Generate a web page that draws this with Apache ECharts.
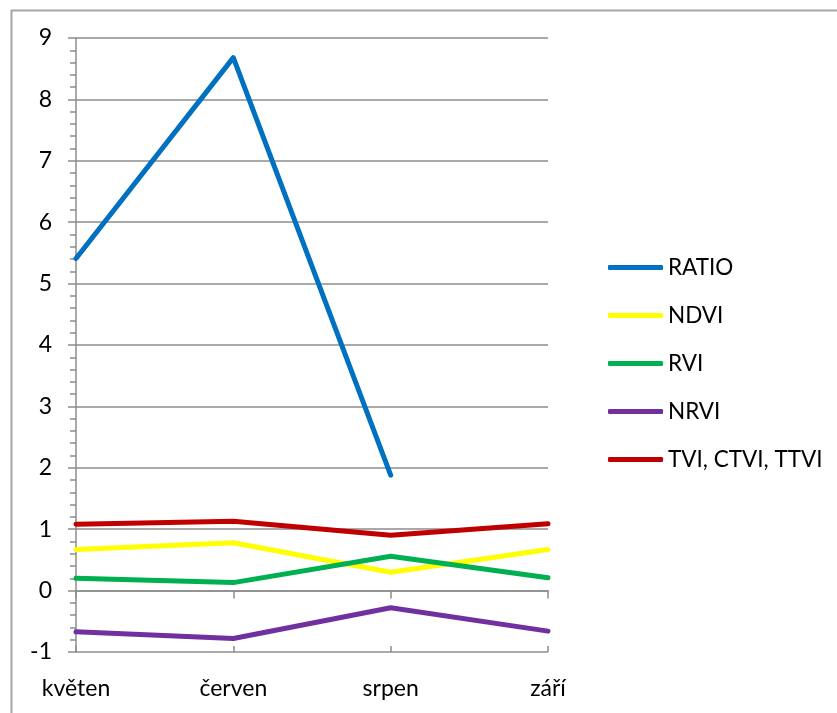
<!DOCTYPE html>
<html>
<head>
<meta charset="utf-8">
<script src="https://cdn.jsdelivr.net/npm/echarts@6/dist/echarts.min.js"></script>
<style>
  html, body { margin: 0; padding: 0; background: #fff; }
  #chart { width: 837px; height: 713px; }
</style>
</head>
<body>
<div id="chart"></div>
<script>
// Months on the category axis
const months = ['květen', 'červen', 'srpen', 'září'];

// Vegetation index values per month
const ratio = [5.41, 8.68, 1.88, null];
const ndvi  = [0.67, 0.78, 0.30, 0.67];
const rvi   = [0.20, 0.13, 0.56, 0.21];
const nrvi  = [-0.67, -0.78, -0.28, -0.66];
const tvi   = [1.08, 1.13, 0.90, 1.09];

// Value axis range
const yMin = -1, yMax = 9, yStep = 1;

const seriesDefs = [
  { name: 'RATIO', data: ratio, color: '#0070C0' },
  { name: 'NDVI', data: ndvi, color: '#FFFF00' },
  { name: 'RVI', data: rvi, color: '#00B050' },
  { name: 'NRVI', data: nrvi, color: '#7030A0' },
  { name: 'TVI, CTVI, TTVI', data: tvi, color: '#C00000' }
];

const FONT = 'Lato, "Open Sans", sans-serif';
const GRAY = '#8c8c8c';

const chart = echarts.init(document.getElementById('chart'), null, { renderer: 'canvas' });

chart.setOption({
  animation: false,
  backgroundColor: '#fff',
  graphic: [{
    type: 'rect',
    left: 9, top: 8,
    shape: { width: 900, height: 800 },
    style: { fill: 'none', stroke: '#a6a6a6', lineWidth: 2 },
    silent: true
  }],
  grid: { left: 76, right: 289, top: 38, bottom: 61, containLabel: false },
  legend: {
    orient: 'vertical',
    left: 603,
    top: 251,
    itemWidth: 55,
    itemHeight: 5,
    itemGap: 25,
    icon: 'roundRect',
    textStyle: { fontFamily: FONT, fontSize: 22.5, color: '#000', lineHeight: 21 },
    data: seriesDefs.map(s => s.name)
  },
  xAxis: [{
    type: 'category',
    data: months,
    boundaryGap: false,
    axisLine: { lineStyle: { color: GRAY, width: 1.5 } },
    axisTick: { show: true, length: 8, lineStyle: { color: GRAY, width: 1.5 } },
    axisLabel: { fontFamily: FONT, fontSize: 23, color: '#000', margin: 25 },
    splitLine: { show: false }
  }, {
    type: 'category',
    data: months,
    boundaryGap: false,
    position: 'bottom',
    axisLine: { show: false },
    axisTick: { show: true, inside: true, length: 6, lineStyle: { color: GRAY, width: 1.5 } },
    axisLabel: { show: false },
    splitLine: { show: false }
  }],
  yAxis: {
    type: 'value',
    min: yMin, max: yMax, interval: yStep,
    axisLine: { show: true, lineStyle: { color: GRAY, width: 1.5 } },
    axisTick: { show: true, length: 8, lineStyle: { color: GRAY, width: 1.5 } },
    minorTick: { show: true, splitNumber: 5, length: 6, lineStyle: { color: GRAY, width: 1.5 } },
    axisLabel: { fontFamily: FONT, fontSize: 23, color: '#000', margin: 24 },
    splitLine: { show: true, lineStyle: { color: GRAY, width: 1.5 } }
  },
  series: seriesDefs.map(s => ({
    name: s.name,
    type: 'line',
    data: s.data,
    symbol: 'none',
    connectNulls: false,
    color: s.color,
    lineStyle: { color: s.color, width: 5, cap: 'round', join: 'round' },
    itemStyle: { color: s.color }
  }))
});
</script>
</body>
</html>
